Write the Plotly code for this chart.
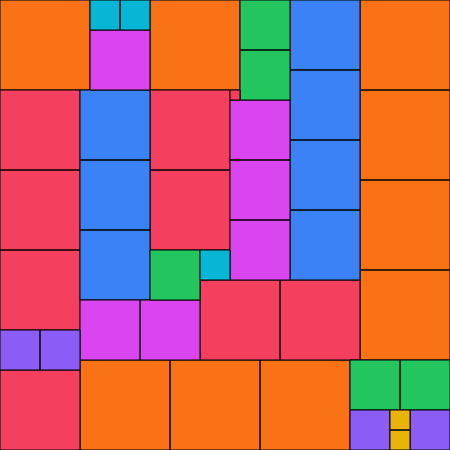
import plotly.graph_objects as go

# Partridge-style packing: n squares of side n (n = 1..9) in a 45 x 45 grid
# Each entry: (column, row) of the square's top-left corner, grid units
sizes = [9, 8, 7, 6, 5, 4, 3, 2, 1]
colors = {
    9: "#F97316",
    8: "#F43F5E",
    7: "#3B82F6",
    6: "#D946EF",
    5: "#22C55E",
    4: "#8B5CF6",
    3: "#06B6D4",
    2: "#EAB308",
    1: "#F43F5E",
}
cols = {
    9: [0, 15, 36, 36, 36, 36, 8, 17, 26],
    8: [0, 0, 0, 0, 15, 15, 20, 28],
    7: [29, 29, 29, 29, 8, 8, 8],
    6: [9, 23, 23, 23, 8, 14],
    5: [24, 24, 15, 35, 40],
    4: [0, 4, 35, 41],
    3: [9, 12, 20],
    2: [39, 39],
    1: [23],
}
rows = {
    9: [0, 0, 0, 9, 18, 27, 36, 36, 36],
    8: [9, 17, 25, 37, 9, 17, 28, 28],
    7: [0, 7, 14, 21, 9, 16, 23],
    6: [3, 10, 16, 22, 30, 30],
    5: [0, 5, 25, 36, 36],
    4: [33, 33, 41, 41],
    3: [0, 0, 25],
    2: [41, 43],
    1: [9],
}
grid_size = 45

fig = go.Figure()
for n in sizes:
    xs, ys = [], []
    for c, r in zip(cols[n], rows[n]):
        xs += [c, c + n, c + n, c, c, None]
        ys += [r, r, r + n, r + n, r, None]
    fig.add_trace(go.Scatter(
        x=xs, y=ys, mode="lines", fill="toself",
        fillcolor=colors[n],
        line=dict(color="black", width=1),
        hoverinfo="skip", showlegend=False,
    ))

fig.update_layout(
    width=450, height=450,
    margin=dict(l=0, r=0, t=0, b=0),
    paper_bgcolor="white", plot_bgcolor="white",
    xaxis=dict(range=[0, grid_size], visible=False, fixedrange=True),
    yaxis=dict(range=[grid_size, 0], visible=False, fixedrange=True),
)
fig.write_html(
    "out.html",
    config={"displayModeBar": False},
    post_script="document.body.style.margin='0';document.body.style.overflow='hidden';",
)
